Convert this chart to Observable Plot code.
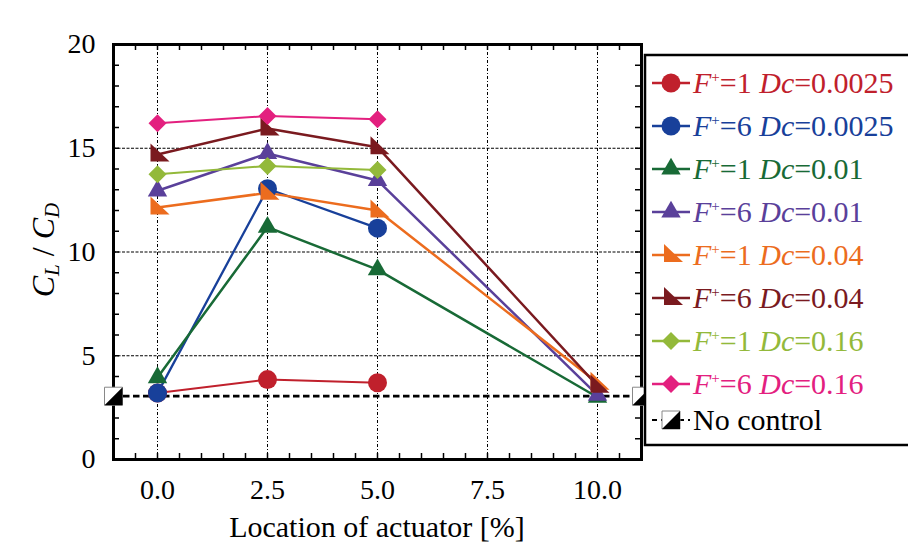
<!DOCTYPE html>
<html><head><meta charset="utf-8">
<script src="https://cdn.jsdelivr.net/npm/d3@7"></script>
<script src="https://cdn.jsdelivr.net/npm/@observablehq/plot@0.6"></script>
<style>body{margin:0;background:#fff}#chart{width:908px;height:545px;overflow:hidden}</style>
</head><body><div id="chart"></div>
<script>
// ---- data ----
const locations = [0, 2.5, 5, 10];
const fPlus = [1, 6, 1, 6, 1, 6, 1, 6];
const dutyCycles = ["0.0025", "0.0025", "0.01", "0.01", "0.04", "0.04", "0.16", "0.16"];
const seriesColors = ["#c0202c", "#18409a", "#186a36", "#5a409a", "#ec6c1e", "#7a1a1f", "#93b93a", "#e3207f"];
const clcd_F1_Dc0025 = [3.2, 3.85, 3.7, null];
const clcd_F6_Dc0025 = [3.2, 13.05, 11.15, null];
const clcd_F1_Dc001 = [3.95, 11.2, 9.15, 3.0];
const clcd_F6_Dc001 = [12.95, 14.75, 13.45, 3.1];
const clcd_F1_Dc004 = [12.15, 12.85, 12.0, 3.7];
const clcd_F6_Dc004 = [14.7, 15.95, 15.05, 3.55];
const clcd_F1_Dc016 = [13.75, 14.15, 13.95, null];
const clcd_F6_Dc016 = [16.2, 16.55, 16.4, null];
const noControl = 3.05;
const xTicks = [0, 2.5, 5, 7.5, 10];
const yTicks = [0, 5, 10, 15, 20];

const seriesValues = [clcd_F1_Dc0025, clcd_F6_Dc0025, clcd_F1_Dc001, clcd_F6_Dc001,
  clcd_F1_Dc004, clcd_F6_Dc004, clcd_F1_Dc016, clcd_F6_Dc016];

// ---- symbols ----
const corner = {draw(ctx, size) {const k = Math.sqrt(size) / 14.18;
  ctx.moveTo(-7 * k, -11 * k); ctx.lineTo(-7 * k, 7 * k); ctx.lineTo(12 * k, 7 * k); ctx.closePath();}};
const ncSquare = {draw(ctx) {ctx.moveTo(-9, -9); ctx.lineTo(9, -9); ctx.lineTo(9, 9); ctx.lineTo(-9, 9); ctx.closePath();}};
const ncHalf = {draw(ctx) {ctx.moveTo(9, -9); ctx.lineTo(9, 9); ctx.lineTo(-9, 9); ctx.closePath();}};
const seriesSymbols = [d3.symbolCircle, d3.symbolCircle, d3.symbolTriangle, d3.symbolTriangle, corner, corner, d3.symbolDiamond2, d3.symbolDiamond2];
const seriesR = [9.5, 9.5, 7.2, 7.2, 8, 8, 8.1, 8.1];
const lineW = [2, 2.3, 2.5, 2.5, 2.5, 2.5, 2, 2];
const dotOrder = [0, 2, 1, 3, 4, 5, 6, 7];

const tables = seriesValues.map(vals => locations.map((x, i) => ({x, y: vals[i]})).filter(d => d.y != null));

const xMinor = d3.range(-0.5, 10.51, 0.5);
const yMinor = d3.range(1, 20, 1);
const px2x = 1 / 44, px2y = 1 / 20.8;

const marks = [
  Plot.ruleY([5, 10, 15], {stroke: "black", strokeWidth: 1.1, strokeDasharray: "3,1.5"}),
  Plot.ruleX(xTicks, {stroke: "black", strokeWidth: 1, strokeDasharray: "3,2,1,2"}),
  Plot.ruleY([noControl], {stroke: "black", strokeWidth: 2.8, strokeDasharray: "6.5,3.5"}),
  ...tables.map((t, i) => Plot.line(t, {x: "x", y: "y", stroke: seriesColors[i], strokeWidth: lineW[i]})),
  ...dotOrder.map(i => Plot.dot(tables[i], {x: "x", y: "y", fill: seriesColors[i], symbol: seriesSymbols[i], r: seriesR[i]})),
  Plot.ruleX(xMinor, {y1: 0, y2: 6 * px2y, stroke: "black", strokeWidth: 1.5}),
  Plot.ruleX(xMinor, {y1: 20, y2: 20 - 6 * px2y, stroke: "black", strokeWidth: 1.5}),
  Plot.ruleY(yMinor, {x1: -1, x2: -1 + 6 * px2x, stroke: "black", strokeWidth: 1.5}),
  Plot.ruleY(yMinor, {x1: 11, x2: 11 - 6 * px2x, stroke: "black", strokeWidth: 1.5}),
  Plot.frame({stroke: "black", strokeWidth: 3}),
  Plot.dot([-1, 11], {x: d => d, y: () => noControl, symbol: ncSquare, fill: "white", stroke: "#888", strokeWidth: 1, r: 9}),
  Plot.dot([-1, 11], {x: d => d, y: () => noControl, symbol: ncHalf, fill: "black", r: 9}),
  Plot.axisX(xTicks, {tickSize: 0, tickPadding: 20, tickFormat: d3.format(".1f"), label: null, fontSize: 28}),
  Plot.axisY(yTicks, {tickSize: 0, tickPadding: 18, label: null, fontSize: 28})
];

const svgEl = Plot.plot({
  width: 908, height: 545,
  marginLeft: 113, marginRight: 267, marginTop: 44, marginBottom: 86,
  x: {domain: [-1, 11]}, y: {domain: [0, 20]},
  style: {fontFamily: "'Liberation Serif','Times New Roman',serif", fontSize: "28px", color: "black", background: "white", overflow: "visible"},
  marks
});
document.getElementById("chart").append(svgEl);

const svg = d3.select(svgEl);
const serif = "'Liberation Serif','Times New Roman',serif";

// axis titles
const yl = svg.append("text").attr("transform", "translate(54,250) rotate(-90)")
  .attr("text-anchor", "middle").attr("font-family", serif).attr("font-size", 32).attr("fill", "black");
yl.append("tspan").attr("font-style", "italic").text("C");
yl.append("tspan").attr("font-style", "italic").attr("font-size", 21).attr("dy", 5).text("L");
yl.append("tspan").attr("dy", -5).text(" / ");
yl.append("tspan").attr("font-style", "italic").text("C");
yl.append("tspan").attr("font-style", "italic").attr("font-size", 21).attr("dy", 5).text("D");

svg.append("text").attr("x", 377).attr("y", 537).attr("text-anchor", "middle")
  .attr("font-family", serif).attr("font-size", 30).attr("fill", "black").text("Location of actuator [%]");

// legend
const lg = svg.append("g").attr("text-anchor", "start");
lg.append("rect").attr("x", 645).attr("y", 55).attr("width", 280).attr("height", 390)
  .attr("fill", "white").attr("stroke", "black").attr("stroke-width", 2.5);
const rowY = i => 83 + 43 * i;
seriesColors.forEach((c, i) => {
  const y = rowY(i);
  lg.append("line").attr("x1", 652).attr("x2", 690).attr("y1", y).attr("y2", y).attr("stroke", c).attr("stroke-width", 2.5);
  lg.append("path").attr("transform", `translate(671,${y})`)
    .attr("d", d3.symbol(seriesSymbols[i], Math.PI * seriesR[i] * seriesR[i])()).attr("fill", c);
  const t = lg.append("text").attr("x", 693).attr("y", y + 10).attr("text-anchor", "start")
    .attr("font-family", serif).attr("font-size", 30).attr("fill", c);
  t.append("tspan").attr("font-style", "italic").text("F");
  t.append("tspan").attr("font-size", 15).attr("dy", -11).text("+");
  t.append("tspan").attr("dy", 11).text("=" + fPlus[i] + " ");
  t.append("tspan").attr("font-style", "italic").text("Dc");
  t.append("tspan").text("=" + dutyCycles[i]);
});
const ny = 420;
lg.append("line").attr("x1", 652).attr("x2", 690).attr("y1", ny).attr("y2", ny).attr("stroke", "black").attr("stroke-width", 2).attr("stroke-dasharray", "5,4");
lg.append("path").attr("transform", `translate(671,${ny})`).attr("d", d3.symbol(ncSquare)()).attr("fill", "white").attr("stroke", "#888");
lg.append("path").attr("transform", `translate(671,${ny})`).attr("d", d3.symbol(ncHalf)()).attr("fill", "black");
lg.append("text").attr("x", 693).attr("y", ny + 10).attr("text-anchor", "start")
  .attr("font-family", serif).attr("font-size", 30).attr("fill", "black").text("No control");
</script></body></html>
